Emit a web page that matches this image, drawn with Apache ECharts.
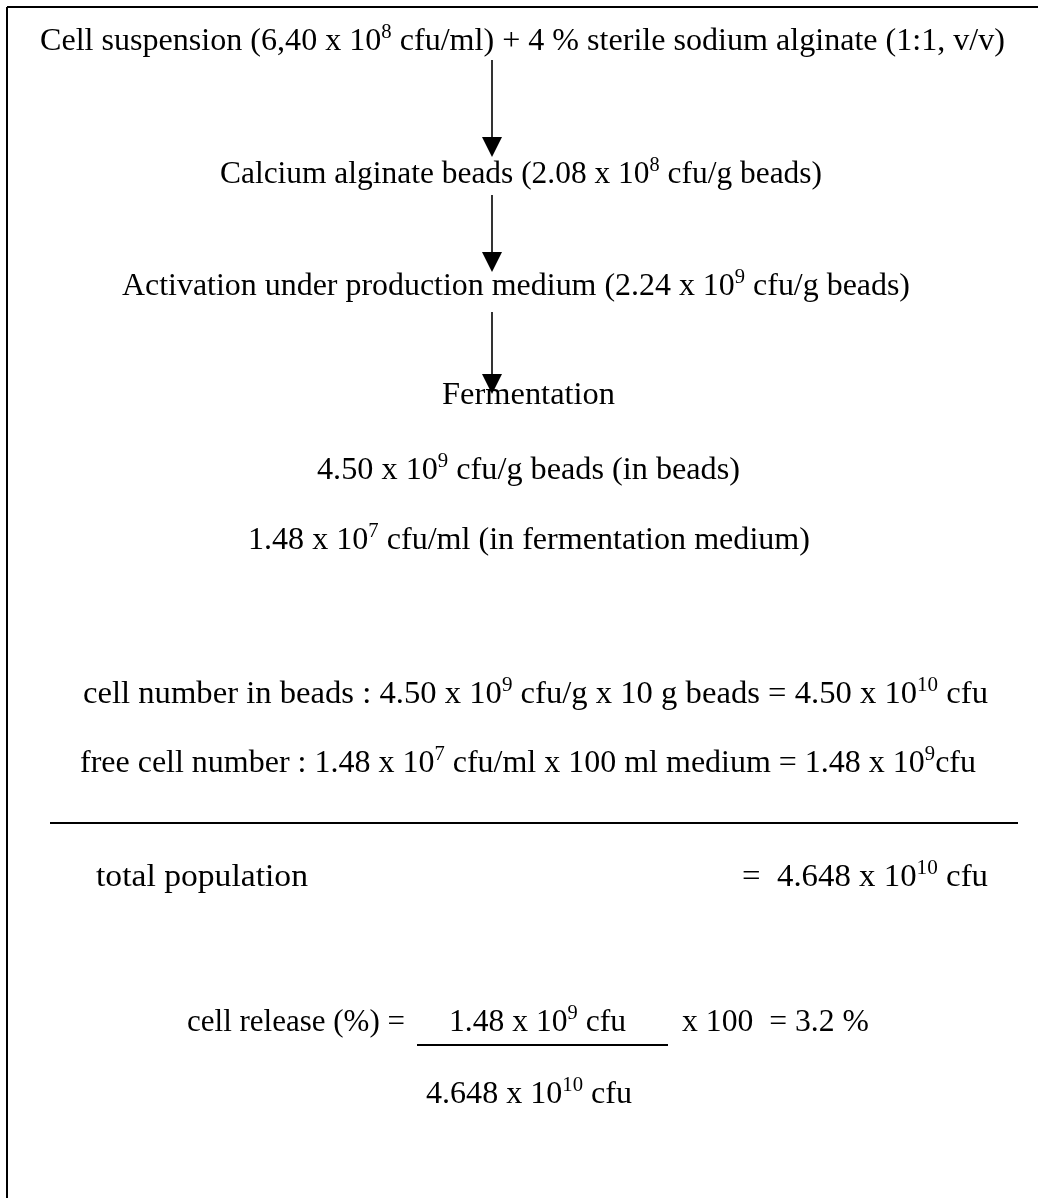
<!DOCTYPE html>
<html>
<head>
<meta charset="utf-8">
<script src="https://cdn.jsdelivr.net/npm/echarts@6/dist/echarts.min.js"></script>
<style>
html,body{margin:0;padding:0;background:#fff;}
#chart{width:1038px;height:1198px;}
</style>
</head>
<body>
<div id="chart"></div>
<script>
// ---------- data (text of the diagram; ^{..} marks a superscript) ----------
const flowSteps = [
  'Cell suspension (6,40 x 10^{8} cfu/ml) + 4 % sterile sodium alginate (1:1, v/v)',
  'Calcium alginate beads (2.08 x 10^{8} cfu/g beads)',
  'Activation under production medium (2.24 x 10^{9} cfu/g beads)',
  'Fermentation'
];
const fermentationResults = [
  '4.50 x 10^{9} cfu/g beads (in beads)',
  '1.48 x 10^{7} cfu/ml (in fermentation medium)'
];
const cellCounts = [
  'cell number in beads : 4.50 x 10^{9} cfu/g x 10 g beads = 4.50 x 10^{10} cfu',
  'free cell number : 1.48 x 10^{7} cfu/ml x 100 ml medium = 1.48 x 10^{9}cfu'
];
const totalRow = ['total population', '=  4.648 x 10^{10} cfu'];
const releaseRow = ['cell release (%) =', '1.48 x 10^{9} cfu', 'x 100  = 3.2 %', '4.648 x 10^{10} cfu'];

// ---------- layout (positions only) ----------
// [left x, right x, cap-middle y]
const flowLayout = [[40, 1005, 42], [220, 822, 175], [122, 910, 287], [442, 615, 396]];
const resultLayout = [[317, 740, 471], [248, 810, 541]];
const countLayout = [[83, 988, 695], [80, 976, 764]];
const totalLayout = [[96, 308, 878], [742, 988, 878]];
const releaseLayout = [[187, 405, 1023], [449, 626, 1023], [682, 869, 1023], [426, 632, 1095]];
const arrowX = 492;
const arrows = [[60, 157], [195, 272], [312, 394]]; // [start y, tip y]
const dividerY = 823, dividerX = [50, 1018];
const fractionBar = [417, 668, 1045];

const FONT = '"Liberation Serif", "Times New Roman", serif';
const MAIN = 31, SUP = 20;

function tokens(str) {
  const parts = str.split(/\^\{([^}]*)\}/);
  return parts.map((p, i) => ({ t: p, sup: i % 2 === 1 })).filter(k => k.t.length);
}
const ctx = document.createElement('canvas').getContext('2d');
function natWidth(str) {
  let w = 0;
  tokens(str).forEach(k => {
    ctx.font = (k.sup ? SUP : MAIN) + 'px ' + FONT;
    w += ctx.measureText(k.t).width;
  });
  return w;
}
function richText(str) {
  return tokens(str).map(k => '{' + (k.sup ? 's' : 'n') + '|' + k.t + '}').join('');
}
const rich = {
  n: { fontSize: MAIN, fontFamily: FONT, lineHeight: 38, fill: '#000', verticalAlign: 'middle' },
  s: { fontSize: SUP, fontFamily: FONT, lineHeight: 26, fill: '#000', verticalAlign: 'top' }
};
function textEl(str, lay) {
  const [x0, x1, cy] = lay;
  const nw = natWidth(str);
  return {
    type: 'text', x: x0, y: cy, scaleX: (x1 - x0) / nw, scaleY: 1, originX: 0, originY: 0,
    silent: true,
    style: { text: richText(str), rich: rich, fontSize: MAIN, fontFamily: FONT, fill: '#000', align: 'left', verticalAlign: 'middle' }
  };
}

const els = [];
// frame (top and left edges)
els.push({ type: 'line', shape: { x1: 7, y1: 7, x2: 1038, y2: 7 }, style: { stroke: '#000', lineWidth: 2 } });
els.push({ type: 'line', shape: { x1: 7, y1: 7, x2: 7, y2: 1198 }, style: { stroke: '#000', lineWidth: 2 } });

flowSteps.forEach((s, i) => els.push(textEl(s, flowLayout[i])));
fermentationResults.forEach((s, i) => els.push(textEl(s, resultLayout[i])));
cellCounts.forEach((s, i) => els.push(textEl(s, countLayout[i])));
totalRow.forEach((s, i) => els.push(textEl(s, totalLayout[i])));
releaseRow.forEach((s, i) => els.push(textEl(s, releaseLayout[i])));

arrows.forEach(([y0, tip]) => {
  els.push({ type: 'line', shape: { x1: arrowX, y1: y0, x2: arrowX, y2: tip - 18 }, style: { stroke: '#000', lineWidth: 1.6 } });
  els.push({ type: 'polygon', shape: { points: [[arrowX - 10, tip - 20], [arrowX + 10, tip - 20], [arrowX, tip]] }, style: { fill: '#000' } });
});

els.push({ type: 'line', shape: { x1: dividerX[0], y1: dividerY, x2: dividerX[1], y2: dividerY }, style: { stroke: '#000', lineWidth: 2 } });
els.push({ type: 'line', shape: { x1: fractionBar[0], y1: fractionBar[2], x2: fractionBar[1], y2: fractionBar[2] }, style: { stroke: '#000', lineWidth: 2 } });

const chart = echarts.init(document.getElementById('chart'), null, { renderer: 'canvas' });
chart.setOption({
  backgroundColor: '#fff',
  animation: false,
  graphic: { elements: els }
});
</script>
</body>
</html>
